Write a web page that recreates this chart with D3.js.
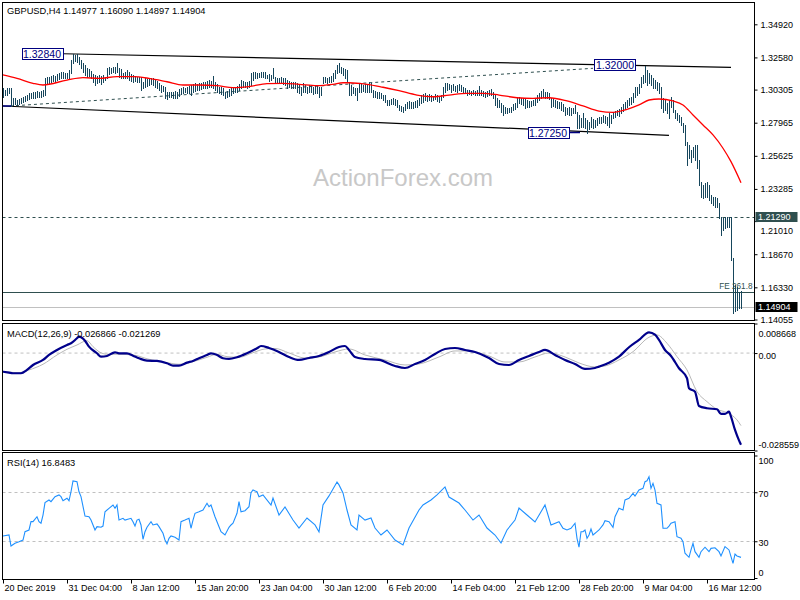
<!DOCTYPE html>
<html><head><meta charset="utf-8">
<script src="https://cdn.jsdelivr.net/npm/d3@7"></script>
<style>
body{margin:0;background:#fff}
svg{display:block}
text{font-family:"Liberation Sans",Arial,sans-serif}
</style>
</head><body>
<svg id="c" width="800" height="600"></svg>
<script>
// ---------------- DATA ----------------
const symbolTitle = "GBPUSD,H4  1.14977 1.16090 1.14897 1.14904";
const macdTitle = "MACD(12,26,9) -0.026866 -0.021269";
const rsiTitle = "RSI(14) 16.8483";
const watermark = "ActionForex.com";

const highs = [
1.3044,1.3028,1.3039,1.3044,1.3039,1.2974,1.2969,1.2957,1.2964,1.2974,
1.2981,1.2988,1.2992,1.3004,1.3004,1.3016,1.3011,1.3021,1.3016,1.3023,
1.3028,1.3110,1.3122,1.3117,1.3129,1.3134,1.3129,1.3139,1.3146,1.3157,
1.3153,1.3146,1.3150,1.3169,1.3240,1.3284,1.3275,1.3280,1.3263,1.3240,
1.3216,1.3204,1.3181,1.3176,1.3162,1.3139,1.3134,1.3129,1.3134,1.3129,
1.3134,1.3122,1.3181,1.3193,1.3186,1.3190,1.3193,1.3216,1.3181,1.3176,
1.3146,1.3153,1.3169,1.3157,1.3139,1.3134,1.3129,1.3122,1.3122,1.3122,
1.3087,1.3110,1.3105,1.3110,1.3115,1.3110,1.3105,1.3091,1.3075,1.3063,
1.3058,1.3051,1.3016,1.3011,1.3016,1.3011,1.3021,1.3016,1.3033,1.3044,
1.3051,1.3044,1.3051,1.3058,1.3063,1.3068,1.3075,1.3068,1.3075,1.3080,
1.3087,1.3082,1.3091,1.3098,1.3091,1.3126,1.3082,1.3068,1.3051,1.3051,
1.3044,1.3016,1.3023,1.3033,1.3039,1.3051,1.3051,1.3058,1.3068,1.3098,
1.3091,1.3087,1.3087,1.3091,
1.3146,1.3157,1.3157,1.3146,1.3146,1.3157,1.3157,1.3153,1.3134,1.3139,
1.3134,1.3186,1.3122,1.3115,1.3110,1.3122,1.3110,1.3110,1.3098,1.3091,
1.3087,1.3082,1.3087,1.3075,1.3068,1.3051,1.3075,1.3063,1.3051,1.3063,
1.3058,1.3051,1.3058,1.3058,1.3051,1.3051,1.3122,1.3117,1.3115,1.3122,
1.3129,1.3146,1.3169,1.3204,1.3216,1.3193,1.3181,1.3176,1.3169,1.3087,
1.3063,1.3051,1.3044,1.3039,1.3075,1.3068,1.3063,1.3068,1.3063,1.3087,
1.3075,1.3028,1.3021,1.3016,1.3011,1.3004,1.2992,1.2992,1.2957,1.2957,
1.2964,1.2969,1.2964,1.2957,1.2922,1.2917,1.2910,1.2927,1.2945,1.2950,
1.2945,1.2940,1.2950,1.2957,1.2969,1.2992,1.2997,1.3004,1.2992,1.2997,
1.2992,1.2988,1.2997,1.2992,1.2988,1.2992,1.3051,1.3080,1.3075,1.3068,
1.3063,1.3068,1.3058,1.3063,1.3068,1.3063,1.3051,1.3044,1.3028,1.3028,
1.3021,1.3028,1.3021,1.3028,1.3056,1.3028,1.3021,1.3016,1.3021,1.3028,
1.3033,1.3016,1.2992,1.2969,1.2957,
1.2933,1.2922,1.2910,1.2898,1.2903,1.2910,1.2927,1.2933,1.2969,1.2981,
1.2974,1.2974,1.2969,1.2957,1.2950,1.2950,1.2957,1.2969,1.2992,1.3004,
1.3021,1.3033,1.3016,1.3011,1.3004,1.2969,1.2964,1.2957,1.2950,1.2945,
1.2940,1.2927,1.2910,1.2903,1.2910,1.2898,1.2903,1.2922,1.2874,1.2851,
1.2827,1.2863,1.2827,1.2816,1.2804,1.2839,1.2823,1.2816,1.2827,1.2839,
1.2839,1.2851,1.2846,1.2839,1.2863,1.2851,1.2874,1.2879,1.2886,1.2893,
1.2910,1.2927,1.2940,1.2957,1.2969,1.2981,1.3004,1.3051,1.3051,1.3068,
1.3122,1.3134,1.3200,1.3169,1.3146,1.3134,1.3115,1.3098,1.3087,1.3075,
1.3051,1.2969,1.2957,1.2933,1.2957,1.2981,1.2957,1.2886,1.2863,1.2851,
1.2839,1.2792,1.2780,1.2662,1.2639,1.2604,1.2627,1.2639,1.2639,1.2533,
1.2380,1.2356,1.2368,1.2380,1.2356,1.2286,1.2274,1.2274,1.2262,1.2227,
1.2132,1.2121,1.2132,1.2132,1.2132,1.2130,1.1840,1.1649,1.1635,1.1600,
1.1609];

const lows = [
1.2976,1.2992,1.2992,1.3004,1.2915,1.2922,1.2927,1.2922,1.2929,1.2933,
1.2940,1.2950,1.2957,1.2962,1.2969,1.2969,1.2974,1.2981,1.2976,1.2981,
1.2988,1.2992,1.3068,1.3075,1.3082,1.3091,1.3087,1.3098,1.3103,1.3110,
1.3110,1.3115,1.3110,1.3110,1.3146,1.3216,1.3233,1.3223,1.3209,1.3181,
1.3157,1.3134,1.3122,1.3129,1.3110,1.3082,1.3063,1.3075,1.3082,1.3072,
1.3087,1.3098,1.3110,1.3139,1.3146,1.3153,1.3146,1.3153,1.3122,1.3115,
1.3110,1.3115,1.3110,1.3098,1.3091,1.3087,1.3091,1.3082,1.3087,1.3028,
1.3039,1.3051,1.3058,1.3063,1.3068,1.3063,1.3051,1.3039,1.3028,1.3016,
1.3021,1.2969,1.2964,1.2979,1.2981,1.2969,1.2974,1.2969,1.2985,1.2997,
1.3004,1.3011,1.3004,1.3009,1.2992,1.3016,1.3021,1.3028,1.3028,1.3035,
1.3039,1.3044,1.3044,1.3051,1.3051,1.3044,1.3028,1.3016,1.3004,1.2997,
1.2992,1.2969,1.2981,1.2985,1.2992,1.3004,1.3016,1.3016,1.3028,1.3039,
1.3051,1.3051,1.3044,1.3051,
1.3063,1.3098,1.3110,1.3115,1.3122,1.3122,1.3122,1.3115,1.3110,1.3091,
1.3098,1.3110,1.3075,1.3082,1.3075,1.3082,1.3068,1.3063,1.3044,1.3051,
1.3044,1.3039,1.3044,1.3016,1.3004,1.2992,1.3016,1.3011,1.3004,1.3016,
1.3011,1.2997,1.3004,1.3004,1.2981,1.2992,1.3075,1.3082,1.3075,1.3082,
1.3087,1.3091,1.3110,1.3146,1.3157,1.3146,1.3134,1.3110,1.3087,1.2992,
1.2992,1.3004,1.2992,1.2957,1.3016,1.3016,1.3021,1.3016,1.3011,1.3016,
1.3016,1.2981,1.2981,1.2969,1.2974,1.2969,1.2957,1.2945,1.2922,1.2922,
1.2927,1.2927,1.2922,1.2910,1.2886,1.2879,1.2874,1.2886,1.2898,1.2903,
1.2898,1.2903,1.2910,1.2910,1.2922,1.2933,1.2945,1.2957,1.2950,1.2957,
1.2950,1.2957,1.2964,1.2950,1.2945,1.2957,1.2981,1.3016,1.3028,1.3033,
1.3016,1.3028,1.3021,1.3016,1.3028,1.3021,1.3016,1.3004,1.2992,1.2997,
1.2992,1.2997,1.2992,1.2992,1.2992,1.2992,1.2988,1.2981,1.2988,1.2992,
1.2992,1.2969,1.2922,1.2910,1.2910,
1.2874,1.2851,1.2863,1.2863,1.2870,1.2874,1.2886,1.2893,1.2910,1.2933,
1.2927,1.2922,1.2903,1.2910,1.2910,1.2917,1.2922,1.2922,1.2945,1.2957,
1.2969,1.2981,1.2969,1.2969,1.2964,1.2910,1.2917,1.2910,1.2903,1.2898,
1.2886,1.2879,1.2851,1.2856,1.2851,1.2851,1.2863,1.2863,1.2757,1.2757,
1.2768,1.2768,1.2757,1.2725,1.2752,1.2768,1.2761,1.2768,1.2780,1.2792,
1.2792,1.2804,1.2792,1.2780,1.2768,1.2792,1.2827,1.2839,1.2851,1.2846,
1.2863,1.2879,1.2893,1.2910,1.2922,1.2927,1.2945,1.2981,1.2992,1.3004,
1.3051,1.3075,1.3087,1.3063,1.3075,1.3063,1.3044,1.3039,1.3028,1.3004,
1.2898,1.2874,1.2886,1.2863,1.2832,1.2910,1.2874,1.2827,1.2816,1.2804,
1.2780,1.2733,1.2639,1.2498,1.2545,1.2521,1.2556,1.2533,1.2474,1.2356,
1.2274,1.2262,1.2274,1.2274,1.2250,1.2227,1.2215,1.2203,1.2203,1.2121,
1.2003,1.2038,1.2050,1.2062,1.2062,1.1826,1.1451,1.1465,1.1472,1.1486,
1.1490];

// moving average (red) [bar index, price]
const maPoints = [[0,1.3134],[7,1.3110],[15,1.3075],[20,1.3063],[32,1.3098],[40,1.3115],[48,1.3110],[57,1.3122],[65,1.3122],[73,1.3110],[82,1.3086],[90,1.3063],[98,1.3063],[107,1.3058],[115,1.3044],[123,1.3052],[132,1.3072],[140,1.3075],[148,1.3068],[157,1.3058],[165,1.3068],[170,1.3079],[173,1.3079],[182,1.3068],[190,1.3047],[198,1.3023],[207,1.2992],[215,1.2980],[223,1.2992],[232,1.3004],[240,1.3004],[248,1.2992],[257,1.2973],[265,1.2969],[273,1.2973],[282,1.2950],[290,1.2915],[298,1.2879],[305,1.2870],[312,1.2891],[318,1.2922],[323,1.2957],[328,1.2964],[335,1.2950],[340,1.2922],[345,1.2851],[350,1.2780],[355,1.2710],[360,1.2616],[364,1.2521],[369,1.2372]];

const macdMain = [[0,-0.00545],[3,-0.00574],[5,-0.00592],[9,-0.00592],[12,-0.00495],[15,-0.00349],[20,-0.00202],[23,-0.00056],[27,0.00091],[32,0.00237],[34,0.00287],[37,0.00434],[38,0.00481],[41,0.00363],[43,0.00188],[47,-0.00006],[49,-0.00105],[52,-0.00085],[56,0.00023],[58,-0.00006],[62,-0.00006],[65,-0.00076],[68,-0.00152],[72,-0.00223],[77,-0.00231],[82,-0.00299],[85,-0.00369],[88,-0.00369],[92,-0.00281],[95,-0.00231],[98,-0.00152],[102,-0.00056],[104,-0.00006],[107,-0.00056],[110,-0.00152],[113,-0.00173],[117,-0.00123],[122,-0.00006],[127,0.00141],[129,0.00208],[133,0.00149],[138,0.00032],[143,-0.00114],[148,-0.00202],[153,-0.00144],[158,-0.00085],[163,0.00032],[168,0.00179],[171,0.00208],[173,0.00091],[176,-0.00114],[181,-0.00173],[188,-0.00202],[196,-0.00378],[201,-0.00437],[206,-0.00319],[211,-0.00202],[216,-0.00026],[221,0.00120],[226,0.00149],[231,0.00091],[236,0.00032],[243,-0.00144],[248,-0.00319],[253,-0.00349],[258,-0.00202],[263,-0.00085],[268,0.00032],[271,0.00091],[276,-0.00056],[281,-0.00202],[286,-0.00319],[291,-0.00466],[296,-0.00437],[298,-0.00398],[303,-0.00281],[308,-0.00105],[313,0.00170],[318,0.00384],[323,0.00609],[326,0.00539],[328,0.00384],[331,0.00091],[334,-0.00085],[338,-0.00445],[342,-0.00738],[343,-0.01031],[346,-0.01131],[348,-0.01550],[352,-0.01617],[357,-0.01647],[359,-0.01784],[361,-0.01784],[363,-0.01717],[364,-0.01863],[366,-0.02253],[368,-0.02560],[369,-0.026866]];

const macdSignal = [[0,-0.00545],[8,-0.00574],[13,-0.00495],[20,-0.00328],[27,-0.00056],[32,0.00111],[37,0.00237],[42,0.00363],[45,0.00188],[48,0.00041],[52,-0.00035],[57,-0.00035],[65,-0.00056],[73,-0.00182],[82,-0.00281],[88,-0.00328],[95,-0.00252],[102,-0.00123],[107,-0.00035],[112,-0.00105],[118,-0.00123],[125,0.00012],[131,0.00120],[136,0.00135],[143,0.00003],[151,-0.00144],[158,-0.00114],[166,0.00032],[173,0.00120],[181,-0.00056],[191,-0.00202],[201,-0.00349],[208,-0.00319],[218,-0.00114],[226,0.00062],[233,0.00062],[243,-0.00085],[251,-0.00261],[258,-0.00261],[266,-0.00114],[273,0.00003],[281,-0.00114],[288,-0.00290],[296,-0.00407],[301,-0.00378],[308,-0.00202],[315,0.00041],[323,0.00463],[327,0.00530],[332,0.00287],[337,-0.00105],[342,-0.00495],[347,-0.01131],[352,-0.01424],[357,-0.01647],[362,-0.01746],[367,-0.01960],[369,-0.021269]];

const rsiPoints = [[0,34.3],[3,35.1],[4,26.1],[6,28.3],[8,29.6],[10,31],[11,37.8],[13,39.2],[14,46],[15,46],[17,50],[18,46],[19,44.7],[20,51.4],[21,61.5],[23,63.7],[24,62.3],[26,66.4],[28,67.8],[29,66.4],[30,63.1],[32,65.1],[33,63.1],[34,70.4],[35,79.2],[37,78.6],[38,70.4],[39,66.4],[41,50.6],[43,50],[44,47.3],[45,43.3],[46,39.2],[47,41.9],[49,41.4],[50,42.4],[51,54.1],[53,56.9],[55,59.6],[56,56.9],[57,59.6],[58,47.3],[60,48.7],[61,47.3],[64,48.7],[65,46],[66,42.4],[67,47.3],[68,47.9],[69,43.3],[70,31.6],[71,37.8],[72,41.4],[74,46],[75,43.3],[77,44.1],[78,41.9],[80,36.5],[81,31],[82,27.8],[83,32.4],[84,34.3],[86,33.2],[88,31],[89,46],[91,47.3],[93,48.7],[94,40.6],[95,47.3],[96,52.8],[98,54.1],[100,55.5],[102,61],[103,58.2],[104,59.6],[106,50],[108,41.9],[109,37.8],[111,35.1],[113,41.4],[114,43.3],[115,44.7],[117,52.8],[118,62.3],[119,54.1],[121,54.9],[123,58.2],[124,69.6],[125,71.8],[127,70.4],[128,66.4],[130,67.8],[134,59.6],[135,65.3],[138,51.4],[141,58],[145,47.3],[148,40.8],[152,49],[156,43.3],[158,37.6],[160,59.6],[163,67],[167,78.4],[168,76],[170,69.4],[172,55.5],[174,43.3],[177,39.2],[178,51.4],[181,47.3],[184,49],[186,40.8],[189,35.1],[192,39.2],[196,31],[200,27],[203,40.8],[208,55.5],[210,59.6],[214,63.7],[217,67.8],[221,74.3],[223,66.1],[228,61.2],[231,55.5],[235,47.3],[238,51.4],[242,40.8],[246,35.1],[249,28.6],[252,39.2],[256,47.3],[258,57.1],[262,51.4],[266,45.7],[271,59.6],[274,43.3],[278,46],[280,40.6],[282,39.2],[284,40.6],[286,44.7],[287,32.4],[288,25.1],[289,37.8],[290,37.8],[291,39.2],[292,32.4],[293,35.1],[294,40],[295,35.1],[297,37.8],[298,39.2],[300,43.3],[301,46.8],[303,46],[305,41.4],[306,50],[308,56.9],[310,55.5],[311,63.7],[313,65.1],[315,69.1],[316,66.9],[318,71.8],[320,73.2],[321,78.6],[322,79.4],[323,82.7],[324,73.2],[325,77.3],[326,71.8],[327,61],[329,59.6],[330,40.6],[332,40.6],[333,42.4],[334,44.7],[336,46],[337,33.7],[339,32.4],[340,29.6],[341,20.2],[343,16.9],[344,22.9],[345,28.3],[346,21.5],[348,16.9],[349,21.5],[351,25.1],[353,21.5],[354,24.2],[356,24.7],[358,21.5],[359,18],[361,25.6],[363,22.9],[364,17.4],[365,12],[366,19.6],[367,18],[369,16.8483]];

const priceTicks = [1.34920,1.32580,1.30305,1.27965,1.25625,1.23285,1.21010,1.18670,1.16330,1.14055];
const macdTicks = [0.008668, 0, -0.028559];
const rsiTicks = [100, 70, 30, 0];
const rsiLevels = [70, 30];
const timeTickIdx = [0,32,64,96,128,160,192,224,256,288,320,352];
const timeLabels = ["20 Dec 2019","31 Dec 04:00","8 Jan 12:00","15 Jan 20:00","23 Jan 04:00","30 Jan 12:00","6 Feb 20:00","14 Feb 04:00","21 Feb 12:00","28 Feb 20:00","9 Mar 04:00","16 Mar 12:00"];

// chart objects (bar index / price)
const upperLine = [[30,1.3284],[364,1.3188]];
const lowerLine = [[0,1.29145],[333,1.27074]];
const risingDashed = [[3.5,1.29145],[295,1.3181]];
const priceLabels = [{text:"1.32840", i:30, p:1.3284},{text:"1.32000", i:316.5, p:1.3201},{text:"1.27250", i:283, p:1.2727}];
const levelDashed = 1.21290;
const feLevel = 1.1602, feText = "FE 261.8";
const bidPrice = 1.14904;

// ---------------- DRAW ----------------
const svg = d3.select("#c");
const L = 2.5, R = 754.5;
const panels = {main:[2.5,320.5], macd:[323.5,450.5], rsi:[452.5,579.5]};

const x = d3.scaleLinear().domain([0,369]).range([3,741]);
const yP = d3.scaleLinear().domain([1.14055,1.34920]).range([319.5,24.3]);
const yM = d3.scaleLinear().domain([-0.028559,0.008668]).range([450.5,323.5]);
const yR = d3.scaleLinear().domain([0,100]).range([578,455.5]);

svg.append("rect").attr("width",800).attr("height",600).attr("fill","#fff");

const defs = svg.append("defs");
Object.entries(panels).forEach(([k,[t,b]])=>{
  defs.append("clipPath").attr("id","clip-"+k).append("rect")
    .attr("x",L).attr("y",t).attr("width",R-L).attr("height",b-t);
});

// watermark
svg.append("text").attr("x",313).attr("y",186).attr("font-size",24)
  .attr("fill","#c8c8c8").text(watermark);

const gMain = svg.append("g").attr("clip-path","url(#clip-main)");
const cx = i => Math.round(x(i)) + 0.5;

// horizontal levels
gMain.append("line").attr("x1",L).attr("x2",R).attr("y1",Math.round(yP(levelDashed))+0.5).attr("y2",Math.round(yP(levelDashed))+0.5)
  .attr("stroke","#2f4f4f").attr("stroke-dasharray","3,3");
gMain.append("line").attr("x1",L).attr("x2",R).attr("y1",Math.round(yP(feLevel))+0.5).attr("y2",Math.round(yP(feLevel))+0.5)
  .attr("stroke","#2f4f4f");
gMain.append("line").attr("x1",L).attr("x2",R).attr("y1",Math.round(yP(bidPrice))+0.5).attr("y2",Math.round(yP(bidPrice))+0.5)
  .attr("stroke","#c0c0c0");

// trend lines
const tl = d3.line().x(d=>x(d[0])).y(d=>yP(d[1]));
gMain.append("path").attr("d",tl(upperLine)).attr("stroke","#000").attr("fill","none").attr("stroke-width",1.2);
gMain.append("path").attr("d",tl(lowerLine)).attr("stroke","#000").attr("fill","none").attr("stroke-width",1.2);
gMain.append("path").attr("d",tl(risingDashed)).attr("stroke","#2f4f4f").attr("fill","none").attr("stroke-dasharray","3,3");
gMain.append("path").attr("d",tl([[0,1.29145],[4.5,1.29145]])).attr("stroke","#000080").attr("stroke-width",1.5);
gMain.append("path").attr("d",tl([[283,1.2727],[288.5,1.2727]])).attr("stroke","#000080").attr("stroke-width",1.5);

// price bars
gMain.append("g").selectAll("line").data(highs).join("line")
  .attr("x1",(d,i)=>cx(i)).attr("x2",(d,i)=>cx(i))
  .attr("y1",d=>Math.round(yP(d))).attr("y2",(d,i)=>Math.round(yP(lows[i]))+1)
  .attr("stroke","#16465c").attr("stroke-width",1).attr("shape-rendering","crispEdges");

// moving average
gMain.append("path").datum(maPoints)
  .attr("d",d3.line().x(d=>x(d[0])).y(d=>yP(d[1])).curve(d3.curveMonotoneX))
  .attr("fill","none").attr("stroke","#ff0000").attr("stroke-width",1.3);

// label boxes
priceLabels.forEach(l=>{
  const g = gMain.append("g");
  const xr = x(l.i), yc = yP(l.p);
  g.append("rect").attr("x",Math.round(xr-41.5)+0.5).attr("y",Math.round(yc-6)+0.5).attr("width",41).attr("height",11)
    .attr("fill","#fff").attr("stroke","#000080");
  g.append("text").attr("x",xr-21).attr("y",yc+4).attr("text-anchor","middle")
    .attr("font-size",10.5).attr("fill","#000080").text(l.text);
});

// FE text
gMain.append("text").attr("x",752.5).attr("y",yP(feLevel)-3).attr("text-anchor","end")
  .attr("font-size",8.2).attr("fill","#2f4f4f").text(feText);

// ---- MACD ----
const gMacd = svg.append("g").attr("clip-path","url(#clip-macd)");
gMacd.append("line").attr("x1",L).attr("x2",R).attr("y1",yM(0)).attr("y2",yM(0))
  .attr("stroke","#c0c0c0").attr("stroke-dasharray","3,3");
gMacd.append("path").datum(macdSignal)
  .attr("d",d3.line().x(d=>x(d[0])).y(d=>yM(d[1])).curve(d3.curveMonotoneX))
  .attr("fill","none").attr("stroke","#b8b8b8").attr("stroke-width",1);
gMacd.append("path").datum(macdMain)
  .attr("d",d3.line().x(d=>x(d[0])).y(d=>yM(d[1])).curve(d3.curveMonotoneX))
  .attr("fill","none").attr("stroke","#00008b").attr("stroke-width",2.2);

// ---- RSI ----
const gRsi = svg.append("g").attr("clip-path","url(#clip-rsi)");
rsiLevels.forEach(v=>{
  gRsi.append("line").attr("x1",L).attr("x2",R).attr("y1",Math.round(yR(v))+0.5).attr("y2",Math.round(yR(v))+0.5)
    .attr("stroke","#c0c0c0").attr("stroke-dasharray","3,3");
});
gRsi.append("path").datum(rsiPoints)
  .attr("d",d3.line().x(d=>x(d[0])).y(d=>yR(d[1])))
  .attr("fill","none").attr("stroke","#1e90ff").attr("stroke-width",1.1);

// frames
Object.values(panels).forEach(([t,b])=>{
  svg.append("rect").attr("x",L).attr("y",t).attr("width",R-L).attr("height",b-t)
    .attr("fill","none").attr("stroke","#000").attr("stroke-width",1);
});

// axes
function styleAxis(g){
  g.select(".domain").remove();
  g.selectAll("text").attr("font-size",9).attr("fill","#000").attr("font-family","Liberation Sans, Arial, sans-serif");
  g.selectAll("line").attr("stroke","#000");
}
const pa = svg.append("g").attr("transform",`translate(${R},0)`)
  .call(d3.axisRight(yP).tickValues(priceTicks).tickSize(3).tickPadding(3).tickFormat(d3.format(".5f")))
  .call(styleAxis);
// the 1.21010 label sits just under the highlighted 1.21290 box
pa.selectAll(".tick text").filter(d=>d===1.21010).attr("dy","1.35em");

const ma = svg.append("g").attr("transform",`translate(${R},0)`)
  .call(d3.axisRight(yM).tickValues(macdTicks).tickSize(3).tickPadding(1).tickFormat(d=>d===0?"0.00":d.toFixed(6)))
  .call(styleAxis);
ma.selectAll(".tick text").attr("dy",(d)=> d===0? "0.55em" : (d>0? "1.45em":"-0.35em"));

const ra = svg.append("g").attr("transform",`translate(${R},0)`)
  .call(d3.axisRight(yR).tickValues(rsiTicks).tickSize(3).tickPadding(1))
  .call(styleAxis);
ra.selectAll(".tick text").attr("dy",(d)=> d===100? "0.85em" : (d===0? "-0.3em":"0.45em"));

const xa = svg.append("g").attr("transform",`translate(0,${panels.rsi[1]})`)
  .call(d3.axisBottom(x).tickValues(timeTickIdx).tickSize(4).tickPadding(1).tickFormat((d,k)=>timeLabels[k]))
  .call(styleAxis);
xa.selectAll(".tick text").attr("text-anchor","start").attr("dx","0.1em");

// value boxes on price axis
function valueBox(p, bg){
  const yc = Math.round(yP(p));
  svg.append("rect").attr("x",755.5).attr("y",yc-5).attr("width",42).attr("height",10).attr("fill",bg);
  svg.append("text").attr("x",758).attr("y",yc+3.3).attr("font-size",9).attr("fill","#fff").text(p.toFixed(5));
}
valueBox(levelDashed, "#2f4f4f");
valueBox(bidPrice, "#000");

// titles
svg.append("text").attr("x",7).attr("y",13.5).attr("font-size",9.3).attr("fill","#000").text(symbolTitle);
svg.append("text").attr("x",7).attr("y",337).attr("font-size",9.3).attr("fill","#000").text(macdTitle);
svg.append("text").attr("x",7).attr("y",466).attr("font-size",9.3).attr("fill","#000").text(rsiTitle);
</script>
</body></html>
